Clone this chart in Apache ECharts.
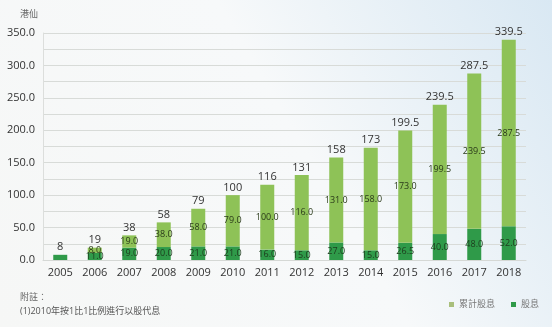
<!DOCTYPE html>
<html>
<head>
<meta charset="utf-8">
<script src="https://cdn.jsdelivr.net/npm/echarts@6/dist/echarts.min.js"></script>
<style>
  html, body { margin: 0; padding: 0; }
  #chart { width: 552px; height: 327px; }
</style>
</head>
<body>
<div id="chart"></div>
<script>
// Dividend per share (HK cents), 2005-2018
const years = ['2005','2006','2007','2008','2009','2010','2011','2012','2013','2014','2015','2016','2017','2018'];
// Dividend paid in the year
const dividend = [8, 11, 19, 20, 21, 21, 16, 15, 27, 15, 26.5, 40, 48, 52];
// Cumulative dividend up to the previous year
const cumulative = [0, 8, 19, 38, 58, 79, 100, 116, 131, 158, 173, 199.5, 239.5, 287.5];
// Running total shown above each bar
const totals = ['8', '19', '38', '58', '79', '100', '116', '131', '158', '173', '199.5', '239.5', '287.5', '339.5'];

const LIGHT = '#8ec257';
const DARK = '#2f9a49';
const FONT = '"Open Sans", "Noto Sans CJK TC", sans-serif';

const chart = echarts.init(document.getElementById('chart'), null, { renderer: 'canvas' });

chart.setOption({
  backgroundColor: {
    type: 'linear', x: 0, y: 1, x2: 1, y2: 0,
    colorStops: [
      { offset: 0, color: '#f6f7f6' },
      { offset: 0.55, color: '#f7f9fa' },
      { offset: 1, color: '#d9e8f3' }
    ]
  },
  textStyle: { fontFamily: FONT },
  animation: false,
  legend: {
    right: 8,
    top: 295,
    itemWidth: 5,
    itemHeight: 5,
    itemGap: 16,
    icon: 'rect',
    textStyle: { fontSize: 9, color: '#777', fontFamily: FONT },
    data: [
      { name: '累計股息', itemStyle: { color: '#a9bf7c' } },
      { name: '股息' }
    ]
  },
  grid: { left: 43, right: 26, top: 33, bottom: 67, containLabel: false },
  xAxis: {
    type: 'category',
    data: years,
    axisLine: { show: true, lineStyle: { color: '#d5d8d5' } },
    axisTick: { show: false },
    axisLabel: { color: '#333', fontSize: 11, margin: 7 }
  },
  yAxis: {
    type: 'value',
    min: 0,
    max: 350,
    interval: 50,
    axisLine: { show: true, lineStyle: { color: '#dcdedc' } },
    axisTick: { show: false },
    axisLabel: {
      color: '#333', fontSize: 11, margin: 8,
      formatter: v => v.toFixed(1)
    },
    splitLine: { lineStyle: { color: '#d8dbd8', width: 1 } },
    minorTick: { show: false, splitNumber: 2 },
    minorSplitLine: { show: true, lineStyle: { color: '#d8dbd8', width: 1 } }
  },
  graphic: [
    {
      type: 'text', left: 20, top: 10,
      style: { text: '港仙', fontSize: 9, fill: '#666', fontFamily: FONT }
    },
    {
      type: 'text', left: 20, top: 293,
      style: { text: '附註：', fontSize: 9, fill: '#666', fontFamily: FONT }
    },
    {
      type: 'text', left: 20, top: 307,
      style: { text: '(1)2010年按1比1比例進行以股代息', fontSize: 9, fill: '#555', fontFamily: FONT }
    }
  ],
  series: [
    {
      name: '股息',
      type: 'bar',
      stack: 'total',
      barWidth: 14,
      data: dividend,
      itemStyle: { color: DARK },
      label: {
        show: true,
        position: 'inside',
        fontSize: 9,
        color: '#1d3b1d',
        formatter: p => p.dataIndex === 0 ? '' : Number(p.value).toFixed(1)
      }
    },
    {
      name: '累計股息',
      type: 'bar',
      stack: 'total',
      barWidth: 14,
      data: cumulative,
      itemStyle: { color: LIGHT },
      label: {
        show: true,
        position: 'inside',
        fontSize: 9,
        color: '#2a3a1a',
        formatter: p => p.value ? Number(p.value).toFixed(1) : ''
      }
    },
    {
      // invisible carrier series that places the running total above each bar
      name: 'totalLabel',
      type: 'bar',
      stack: 'total',
      barWidth: 14,
      data: cumulative.map(() => 0),
      itemStyle: { color: 'transparent' },
      tooltip: { show: false },
      label: {
        show: true,
        position: 'top',
        distance: 2,
        fontSize: 11,
        color: '#333',
        formatter: p => totals[p.dataIndex]
      }
    }
  ]
});
</script>
</body>
</html>
